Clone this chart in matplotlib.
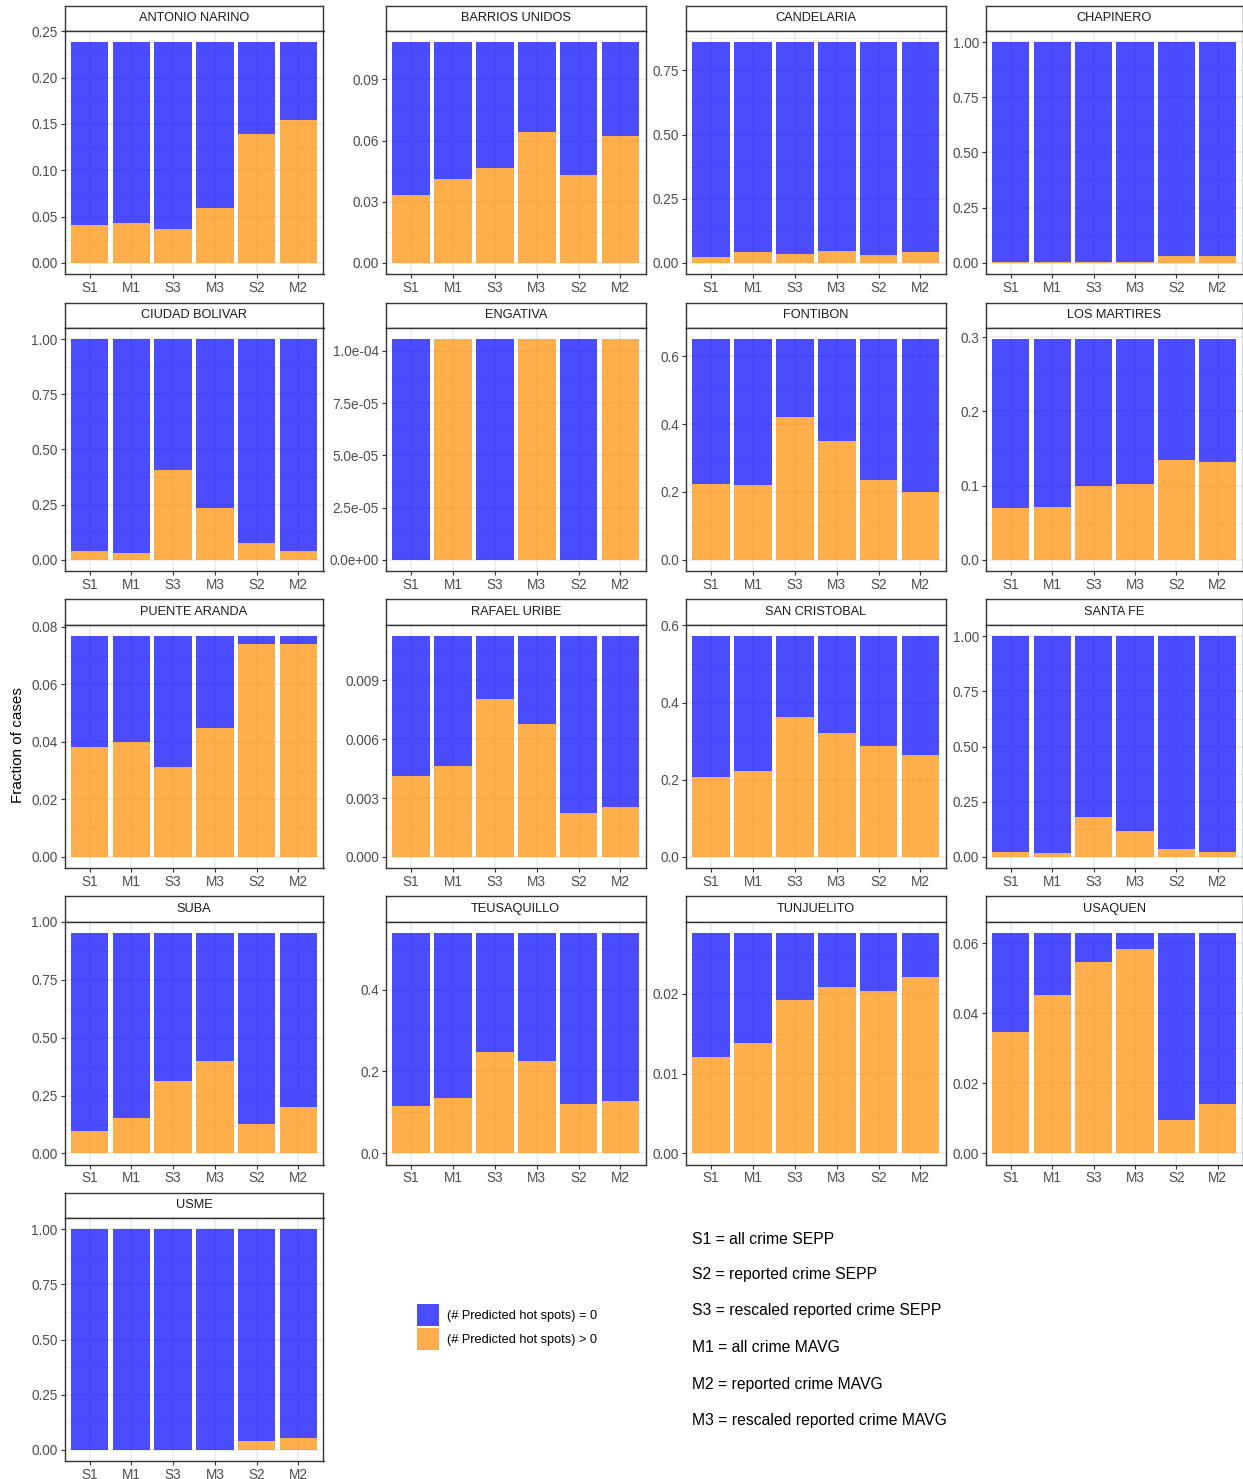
import numpy as np
import matplotlib
matplotlib.use('Agg')
import matplotlib.pyplot as plt
from matplotlib.patches import Patch

plt.rcParams['font.family'] = ['Liberation Sans', 'DejaVu Sans']

# =============================================================================
# Data
# =============================================================================

methods = ['S1', 'M1', 'S3', 'M3', 'S2', 'M2']

districts = ['ANTONIO NARINO', 'BARRIOS UNIDOS', 'CANDELARIA', 'CHAPINERO',
             'CIUDAD BOLIVAR', 'ENGATIVA', 'FONTIBON', 'LOS MARTIRES',
             'PUENTE ARANDA', 'RAFAEL URIBE', 'SAN CRISTOBAL', 'SANTA FE',
             'SUBA', 'TEUSAQUILLO', 'TUNJUELITO', 'USAQUEN', 'USME']

# total fraction of cases per district (same for every method)
totals = [0.2384, 0.1083, 0.860, 1.0, 1.0, 1.057e-4, 0.650, 0.2975,
          0.0768, 0.01126, 0.5723, 1.0, 0.954, 0.539, 0.0277, 0.0630, 1.0]

# fraction of cases with (# predicted hot spots) > 0, order S1 M1 S3 M3 S2 M2
hot = [
    [0.0411, 0.0432, 0.0367, 0.0590, 0.1390, 0.1545],
    [0.0335, 0.0411, 0.0466, 0.0640, 0.0430, 0.0620],
    [0.024, 0.042, 0.033, 0.045, 0.030, 0.044],
    [0.003, 0.005, 0.004, 0.006, 0.032, 0.032],
    [0.039, 0.033, 0.408, 0.233, 0.078, 0.042],
    [0.0, 1.057e-4, 0.0, 1.057e-4, 0.0, 1.057e-4],
    [0.2235, 0.220, 0.421, 0.349, 0.235, 0.200],
    [0.0705, 0.071, 0.0996, 0.1019, 0.135, 0.1315],
    [0.0381, 0.0400, 0.0312, 0.0450, 0.0741, 0.0740],
    [0.00413, 0.00465, 0.00806, 0.00679, 0.00223, 0.00253],
    [0.2084, 0.223, 0.3614, 0.3216, 0.288, 0.2637],
    [0.024, 0.018, 0.183, 0.116, 0.035, 0.0226],
    [0.098, 0.151, 0.311, 0.400, 0.127, 0.1986],
    [0.1154, 0.135, 0.248, 0.225, 0.121, 0.1285],
    [0.01208, 0.01383, 0.01926, 0.02093, 0.02043, 0.0221],
    [0.0346, 0.0451, 0.0545, 0.0584, 0.0094, 0.0140],
    [0.0, 0.0, 0.0, 0.0, 0.041, 0.054],
]

# y tick breaks and label formats per panel
yticks = [
    [0, 0.05, 0.10, 0.15, 0.20, 0.25],
    [0, 0.03, 0.06, 0.09],
    [0, 0.25, 0.50, 0.75],
    [0, 0.25, 0.50, 0.75, 1.00],
    [0, 0.25, 0.50, 0.75, 1.00],
    [0, 2.5e-5, 5.0e-5, 7.5e-5, 1.0e-4],
    [0, 0.2, 0.4, 0.6],
    [0, 0.1, 0.2, 0.3],
    [0, 0.02, 0.04, 0.06, 0.08],
    [0, 0.003, 0.006, 0.009],
    [0, 0.2, 0.4, 0.6],
    [0, 0.25, 0.50, 0.75, 1.00],
    [0, 0.25, 0.50, 0.75, 1.00],
    [0, 0.2, 0.4],
    [0, 0.01, 0.02],
    [0, 0.02, 0.04, 0.06],
    [0, 0.25, 0.50, 0.75, 1.00],
]
yfmt = ['{:.2f}', '{:.2f}', '{:.2f}', '{:.2f}', '{:.2f}', '{:.1e}', '{:.1f}',
        '{:.1f}', '{:.2f}', '{:.3f}', '{:.1f}', '{:.2f}', '{:.2f}', '{:.1f}',
        '{:.2f}', '{:.2f}', '{:.2f}']

legend_labels = ['(# Predicted hot spots) = 0', '(# Predicted hot spots) > 0']
notes = ['S1 = all crime SEPP', 'S2 = reported crime SEPP',
         'S3 = rescaled reported crime SEPP', 'M1 = all crime MAVG',
         'M2 = reported crime MAVG', 'M3 = rescaled reported crime MAVG']

# =============================================================================
# Layout (pixel based, ggplot facet_wrap look)
# =============================================================================

W, H = 1243, 1479
fig = plt.figure(figsize=(W / 100, H / 100), dpi=100)

BLUE = 'blue'
ORANGE = 'darkorange'
ALPHA = 0.7
GRID = '#EBEBEB'
BORDER = '#333333'

col_left = [64.5, 386, 686, 986]
col_right = [323.5, 645.5, 945.5, 1242.5]
row_top = [5.5, 302.5, 599.5, 896, 1192.5]
strip_h = 25.5
panel_h = 243


def px_rect(l, t, w, h):
    return [l / W, 1 - (t + h) / H, w / W, h / H]


x = np.arange(len(methods))

for i, name in enumerate(districts):
    r, c = divmod(i, 4)
    l = col_left[c]
    w = col_right[c] - l
    t = row_top[r]

    # strip
    sax = fig.add_axes(px_rect(l, t, w, strip_h))
    sax.set_xticks([])
    sax.set_yticks([])
    sax.set_facecolor('white')
    for sp in sax.spines.values():
        sp.set_color(BORDER)
        sp.set_linewidth(1.0)
    sax.text(0.5, 0.5, name, ha='center', va='center', fontsize=9.2,
             color='#1A1A1A', transform=sax.transAxes)

    # panel
    ax = fig.add_axes(px_rect(l, t + strip_h, w, panel_h))
    T = totals[i]
    o = np.array(hot[i])
    ax.bar(x, o, width=0.9, color=ORANGE, alpha=ALPHA, linewidth=0, zorder=3)
    ax.bar(x, T - o, bottom=o, width=0.9, color=BLUE, alpha=ALPHA,
           linewidth=0, zorder=3)

    ticks = yticks[i]
    ax.set_yticks(ticks)
    ax.set_yticklabels([yfmt[i].format(v) for v in ticks])
    step = ticks[1] - ticks[0]
    minors = [v + step / 2 for v in [ticks[0] - step] + ticks]
    ax.set_yticks(minors, minor=True)
    ax.set_xticks(x)
    ax.set_xticklabels(methods)

    # limits last, so the tick lists do not widen them
    ax.set_xlim(-0.6, len(methods) - 0.4)
    ax.set_ylim(-0.05 * T, 1.05 * T)

    ax.grid(True, which='major', color=GRID, linewidth=1.1, zorder=0)
    ax.grid(True, which='minor', axis='y', color=GRID, linewidth=0.55, zorder=0)
    ax.set_axisbelow(True)
    ax.tick_params(which='minor', length=0)
    ax.tick_params(which='major', length=3, width=0.8, color=BORDER,
                   labelsize=9.8, labelcolor='#4D4D4D', pad=2)
    for sp in ax.spines.values():
        sp.set_color(BORDER)
        sp.set_linewidth(1.0)

# y axis title
fig.text(18 / W, 1 - 745 / H, 'Fraction of cases', rotation=90,
         ha='center', va='center', fontsize=11)

# legend
handles = [Patch(facecolor=BLUE, alpha=ALPHA, edgecolor='none'),
           Patch(facecolor=ORANGE, alpha=ALPHA, edgecolor='none')]
fig.legend(handles, legend_labels, loc='upper left',
           bbox_to_anchor=(417 / W, 1 - 1304 / H), frameon=False,
           fontsize=9.2, handlelength=1.75, handleheight=2.3,
           handletextpad=0.6, labelspacing=0.1, borderpad=0,
           borderaxespad=0)

# method notes
note_y = [1239, 1275, 1311, 1348, 1384, 1420]
for ny, txt in zip(note_y, notes):
    fig.text(692 / W, 1 - ny / H, txt, ha='left', va='center', fontsize=11.3)

plt.savefig('out.png', dpi=100, facecolor='white')
plt.close()
